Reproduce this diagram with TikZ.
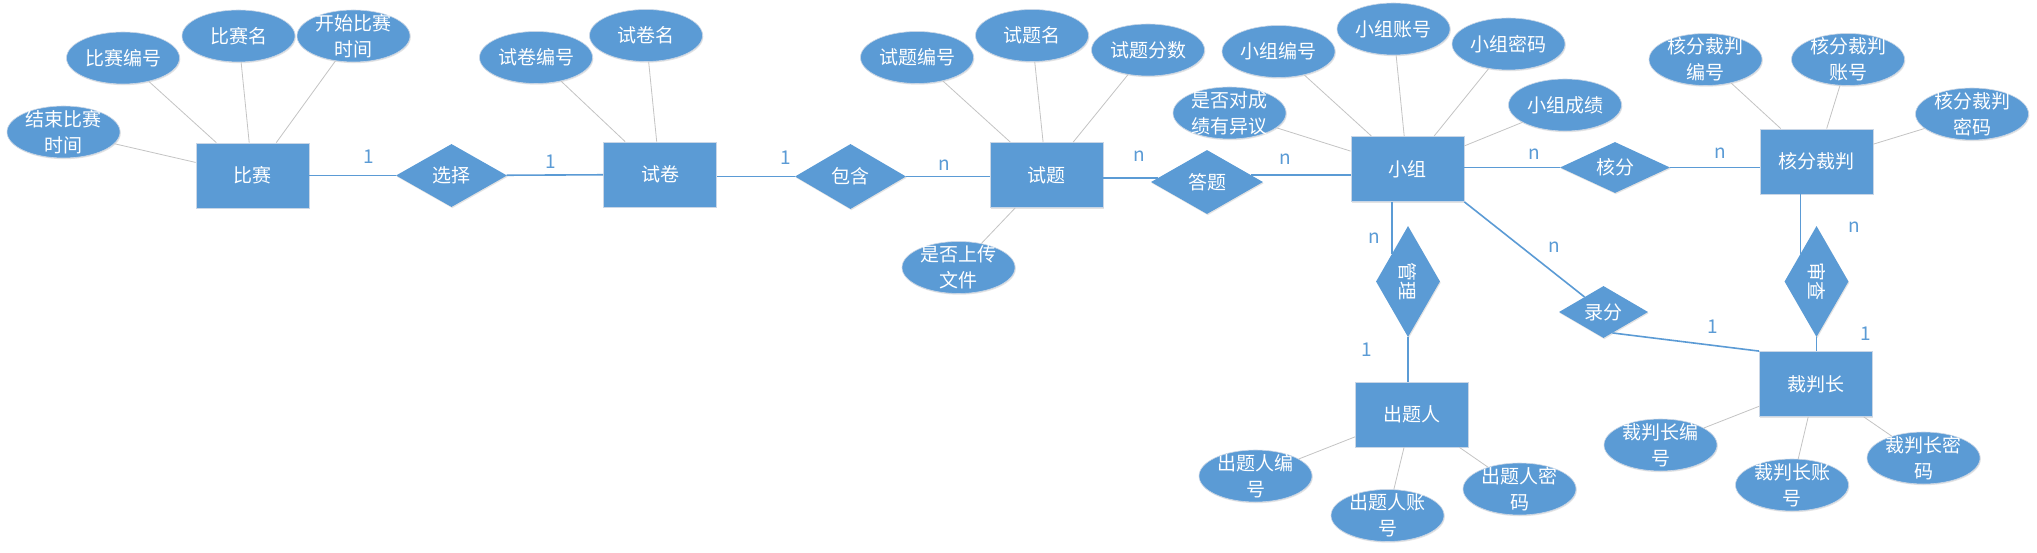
\documentclass[tikz,border=0pt]{standalone}
\usepackage{fontspec}
\setmainfont{Noto Sans CJK SC}
\usetikzlibrary{shapes.geometric,calc,shadows}
\definecolor{eblue}{HTML}{5B9BD5}
\definecolor{agray}{HTML}{C4C4C4}
\definecolor{edgec}{HTML}{C9D6E6}
\newcommand\attrnode[4]{\node[attr] (#1) at (#2) {}; \node[atxt] (#1-t) at (#1) {#3}; \draw[aline] (#1) -- (#4);}
\begin{document}
\begin{tikzpicture}[x=1pt,y=-1pt,
  every node/.style={font=\fontsize{19}{26}\selectfont, inner sep=0pt},
  sh/.style={drop shadow={shadow xshift=0.8pt,shadow yshift=-1.2pt,opacity=0.18,fill=black!60}},
  ent/.style={rectangle, fill=eblue, draw=edgec, line width=0.8pt, minimum width=113pt, minimum height=65pt, text=white, sh},
  rel/.style={diamond, aspect=2, fill=eblue, text=white, sh},
  attr/.style={ellipse, fill=eblue, draw=edgec, line width=0.6pt, minimum width=113pt, minimum height=52pt, sh},
  atxt/.style={text=white, align=center},
  card/.style={text=eblue},
  rline/.style={draw=eblue, line width=1.6pt},
  aline/.style={draw=agray, line width=0.8pt}]
\fill[white] (0,0) rectangle (2037,553);
\useasboundingbox (0,0) rectangle (2037,553);

% entities
\node[ent] (bs) at (252.5,175.5) {比赛};
\node[ent] (sj) at (660,174.5) {试卷};
\node[ent] (st) at (1046.5,175) {试题};
\node[ent] (grp) at (1407.5,169) {小组};
\node[ent] (hfcp) at (1816.5,161.5) {核分裁判};
\node[ent] (cti) at (1412,414.5) {出题人};
\node[ent] (cpz) at (1816,384) {裁判长};

% relationships
\node[rel, minimum width=111pt, minimum height=63pt] (xuanze) at (451.5,175.5) {选择};
\node[rel, minimum width=111pt, minimum height=65pt] (bh) at (850.5,176.5) {包含};
\node[rel, minimum width=112pt, minimum height=64pt] (dt) at (1207,182) {答题};
\node[rel, minimum width=110pt, minimum height=51pt] (hf) at (1615,167.5) {核分};
\node[rel, minimum width=111pt, minimum height=64pt, rotate=-90] (gl) at (1408,281.5) {管理};
\node[rel, minimum width=111pt, minimum height=64pt, rotate=-90] (sc) at (1816.5,281.5) {审查};
\node[rel, minimum width=89pt, minimum height=52pt] (lf) at (1603.5,312) {录分};

% relationship lines
\draw[rline] (bs) -- (xuanze);
\draw[rline] (xuanze) -- (sj);
\draw[rline] (bh.west) -- (bh.west -| sj.east);
\draw[rline] (bh.east) -- (bh.east -| st.west);
\draw[rline] (dt.175) -- (dt.175 -| st.east);
\draw[rline] (dt.9) -- (dt.9 -| grp.west);
\draw[rline] (hf.west) -- (hf.west -| grp.east);
\draw[rline] (hf.east) -- (hf.east -| hfcp.west);
\draw[rline] (gl.south west) -- (gl.south west |- grp.south);
\draw[rline] (gl.east) -- (gl.east |- cti.north);
\draw[rline] (sc.south west) -- (sc.south west |- hfcp.south);
\draw[rline] (sc.east) -- (sc.east |- cpz.north);
\draw[rline] (grp.south east) -- (lf);
\draw[rline] ($(lf.south)!0.2!(lf.east)$) -- (cpz.north west);

% cardinalities
\node[card] (k1) at (369,157) {1};
\node[card] (k2) at (551,162) {1};
\node[card] (k3) at (786,158) {1};
\node[card] (k4) at (944,165) {n};
\node[card] (k5) at (1139,156) {n};
\node[card] (k6) at (1285,159) {n};
\node[card] (k7) at (1534,154) {n};
\node[card] (k8) at (1720,153) {n};
\node[card] (k9) at (1374,238) {n};
\node[card] (k10) at (1367,350) {1};
\node[card] (k11) at (1554,247) {n};
\node[card] (k12) at (1713,327) {1};
\node[card] (k13) at (1854,227) {n};
\node[card] (k14) at (1866,334) {1};

% attributes
\attrnode{a1}{123,58}{比赛编号}{bs}
\attrnode{a2}{238.5,36}{比赛名}{bs}
\attrnode{a3}{353.5,36}{开始比赛\\时间}{bs}
\attrnode{a4}{63.5,132}{结束比赛\\时间}{bs}
\attrnode{b1}{536,57.5}{试卷编号}{sj}
\attrnode{b2}{646,35.5}{试卷名}{sj}
\attrnode{c1}{917,57.5}{试题编号}{st}
\attrnode{c2}{1032,35.5}{试题名}{st}
\attrnode{c3}{1148,50}{试题分数}{st}
\attrnode{c4}{958.5,267.5}{是否上传\\文件}{st}
\attrnode{d1}{1229.5,113}{是否对成\\绩有异议}{grp}
\attrnode{d2}{1278.5,51.5}{小组编号}{grp}
\attrnode{d3}{1393.5,29}{小组账号}{grp}
\attrnode{d4}{1508.5,44}{小组密码}{grp}
\attrnode{d5}{1565,105}{小组成绩}{grp}
\attrnode{e1}{1705.5,59.5}{核分裁判\\编号}{hfcp}
\attrnode{e2}{1848,59.5}{核分裁判\\账号}{hfcp}
\attrnode{e3}{1972,114}{核分裁判\\密码}{hfcp}
\attrnode{f1}{1255.5,476}{出题人编\\号}{cti}
\attrnode{f2}{1387.5,515.5}{出题人账\\号}{cti}
\attrnode{f3}{1519.5,489}{出题人密\\码}{cti}
\attrnode{g1}{1660.5,445}{裁判长编\\号}{cpz}
\attrnode{g2}{1792,485}{裁判长账\\号}{cpz}
\attrnode{g3}{1923.5,458}{裁判长密\\码}{cpz}
\end{tikzpicture}
\end{document}
